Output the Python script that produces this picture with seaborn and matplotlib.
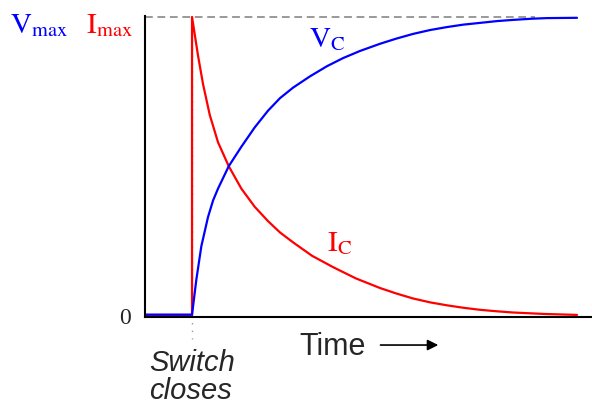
import seaborn as sns
import matplotlib.pyplot as plt
import pandas as pd

# values (time in arbitrary units, switch closes at t=0)
vc_time = [-4.7, 0.0, 0.43, 0.93, 1.6, 2.1, 2.6, 3.67, 4.93, 6.27, 7.6, 8.8, 10.1, 11.8, 13.5,
           15.1, 16.8, 18.8, 20.4, 22.1, 23.8, 25.5, 27.1, 28.8, 30.5, 32.1, 34.0, 35.5, 38.5]
vc_vals = [0.003, 0.003, 0.120, 0.232, 0.330, 0.385, 0.425, 0.500, 0.565, 0.630, 0.686, 0.728,
           0.763, 0.801, 0.835, 0.862, 0.886, 0.910, 0.927, 0.943, 0.956, 0.966, 0.974, 0.980,
           0.986, 0.990, 0.994, 0.996, 0.997]

ic_time = [-4.7, 0.0, 0.0, 0.6, 1.1, 1.77, 2.6, 3.67, 4.93, 6.27, 7.6, 8.8, 10.1, 12.0, 14.1,
           16.4, 18.8, 20.4, 22.1, 23.8, 25.5, 27.1, 28.8, 30.5, 32.1, 35.3, 38.5]
ic_vals = [0.0, 0.0, 1.0, 0.870, 0.775, 0.672, 0.580, 0.500, 0.425, 0.364, 0.316, 0.278, 0.245,
           0.200, 0.162, 0.124, 0.092, 0.074, 0.057, 0.044, 0.034, 0.026, 0.019, 0.014, 0.010,
           0.005, 0.002]

vmax_line = [-4.7, 34.3]
switch_time = 0.0

sns.set_style("white")
plt.rcParams['font.family'] = ['Liberation Sans', 'DejaVu Sans']
plt.rcParams['mathtext.fontset'] = 'stix'

fig = plt.figure(figsize=(5.92, 4.10), dpi=100)
ax = fig.add_axes([0.245, 0.2232, 0.755, 0.7353])

vc = pd.DataFrame({'t': vc_time, 'v': vc_vals})
ic = pd.DataFrame({'t': ic_time, 'i': ic_vals})

# guide lines: V/I max level and the moment the switch closes
ax.plot(vmax_line, [1.0, 1.0], color='#999999', lw=1.4, dashes=(4, 2.4), zorder=1)
ax.plot([switch_time, switch_time], [1.0, -0.079], color='#999999', lw=1.0,
        dashes=(1, 4.5), clip_on=False, zorder=1)

sns.lineplot(data=ic, x='t', y='i', ax=ax, color='#ff0000', lw=1.6,
             estimator=None, sort=False)
sns.lineplot(data=vc, x='t', y='v', ax=ax, color='#0000ff', lw=1.6,
             estimator=None, sort=False)

ax.set_xlim(-4.7, 40.0)
ax.set_ylim(-0.0067, 1.003)
ax.set_xticks([])
ax.set_yticks([])
ax.set_xlabel('')
ax.set_ylabel('')
for s in ['top', 'right']:
    ax.spines[s].set_visible(False)
for s in ['left', 'bottom']:
    ax.spines[s].set_color('black')
    ax.spines[s].set_linewidth(1.5)

# labels
fig.text(0.221, 0.224, '0', fontsize=17, family='Liberation Serif', ha='right', va='center')
fig.text(0.017, 0.94, r'$\mathrm{V_{max}}$', fontsize=21, color='#0000ff', ha='left', va='center')
fig.text(0.145, 0.94, r'$\mathrm{I_{max}}$', fontsize=21, color='#ff0000', ha='left', va='center')
ax.text(11.7, 0.93, r'$\mathrm{V_C}$', fontsize=21, color='#0000ff', ha='left', va='center')
ax.text(13.5, 0.245, r'$\mathrm{I_C}$', fontsize=21, color='#ff0000', ha='left', va='center')

fig.text(0.252, 0.080, 'Switch\ncloses', fontsize=21, style='italic', ha='left', va='center',
         linespacing=1.0)
fig.text(0.505, 0.154, 'Time', fontsize=22, ha='left', va='center')
fig.add_artist(plt.Annotation('', xy=(0.745, 0.156), xytext=(0.638, 0.156),
                              xycoords='figure fraction',
                              arrowprops=dict(arrowstyle='-|>', color='black', lw=1.2,
                                              mutation_scale=16)))

fig.savefig('out.png', dpi=100)
